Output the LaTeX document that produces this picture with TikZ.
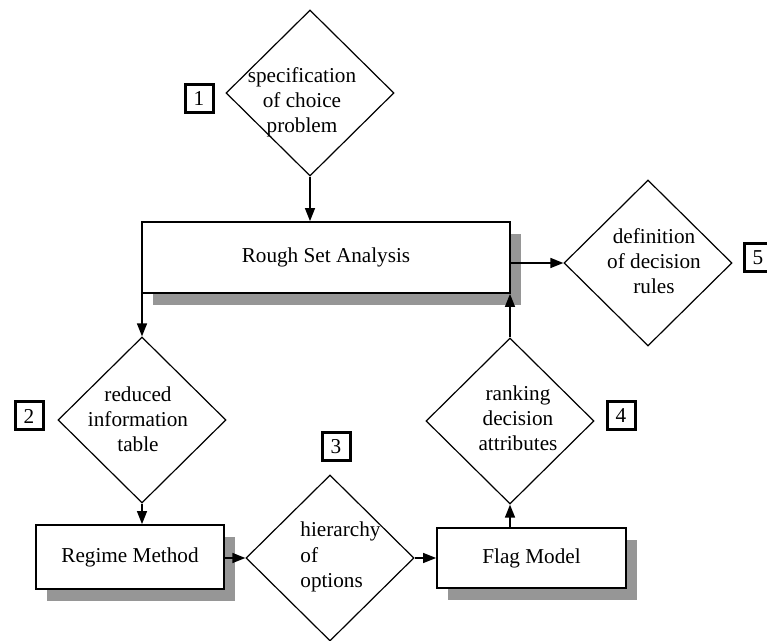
\documentclass[tikz,border=0pt]{standalone}
\usepackage{fontspec}
\setmainfont{Liberation Serif}
\usepackage{tikz}
\usetikzlibrary{arrows,arrows.meta,positioning,shapes,shapes.geometric,shadows}
\definecolor{shadowgray}{RGB}{150,150,150}

\begin{document}
\begin{tikzpicture}[x=0.5pt,y=-0.5pt]
		\tikzstyle{every node}=[font=\fontsize{10.6}{12.6}\selectfont]
		\tikzstyle{decision}=[diamond,draw,line width=0.6pt,minimum width=84pt,minimum height=83pt,inner sep=0pt]
		\tikzstyle{process}=[rectangle,draw,line width=0.9pt,fill=white,inner sep=0pt,
			drop shadow={shadow xshift=5.5pt,shadow yshift=-6pt,fill=shadowgray,opacity=1}]
		\tikzstyle{numbox}=[rectangle,draw,line width=1.5pt,minimum size=14pt,inner sep=0pt]
		\tikzstyle{flow}=[line width=0.7pt,-{Triangle[length=6.5pt,width=5pt]}]

		\useasboundingbox (0,0) rectangle (767,641);

		% steps
		\node[decision] (spec) at (310,93) {};
		\node[align=center] (spectext) at (302,102) {specification\\of choice\\problem};
		\node[numbox] (one) at (199,99) {1};

		\node[process, minimum width=184pt, minimum height=35.5pt] (rsa) at (326,257.5) {Rough Set Analysis};

		\node[decision] (defn) at (648,263) {};
		\node[align=center] (defntext) at (654,261) {definition\\of decision\\rules};
		\node[numbox] (five) at (758,258) {5};

		\node[decision] (reduced) at (142,420) {};
		\node[align=center] (reducedtext) at (138,419) {reduced\\information\\table};
		\node[numbox] (two) at (29,416) {2};

		\node[process, minimum width=94pt, minimum height=32pt] (regime) at (130,557) {Regime Method};

		\node[decision] (hier) at (330,558) {};
		\node[align=left, anchor=west, inner sep=0pt] (hiertext) at (300,557) {hierarchy\\of\\options};
		\node[numbox] (three) at (336,447) {3};

		\node[process, minimum width=94.5pt, minimum height=30pt] (flag) at (531.5,558) {Flag Model};

		\node[decision] (rank) at (510,421) {};
		\node[align=center] (ranktext) at (518,418) {ranking\\decision\\attributes};
		\node[numbox] (four) at (621,416) {4};

		% arrows
		\draw [flow] (spec.south) -- (spec.south |- rsa.north);
		\draw [flow] (defn.west -| rsa.east) -- (defn.west);
		\draw [flow] (reduced.north |- rsa.south) -- (reduced.north);
		\draw [flow] (reduced.south) -- (reduced.south |- regime.north);
		\draw [flow] (hier.west -| regime.east) -- (hier.west);
		\draw [flow] (hier.east) -- (hier.east -| flag.west);
		\draw [flow] (rank.south |- flag.north) -- (rank.south);
		\draw [flow] (rank.north) -- (rank.north |- rsa.south);
\end{tikzpicture}
\end{document}
